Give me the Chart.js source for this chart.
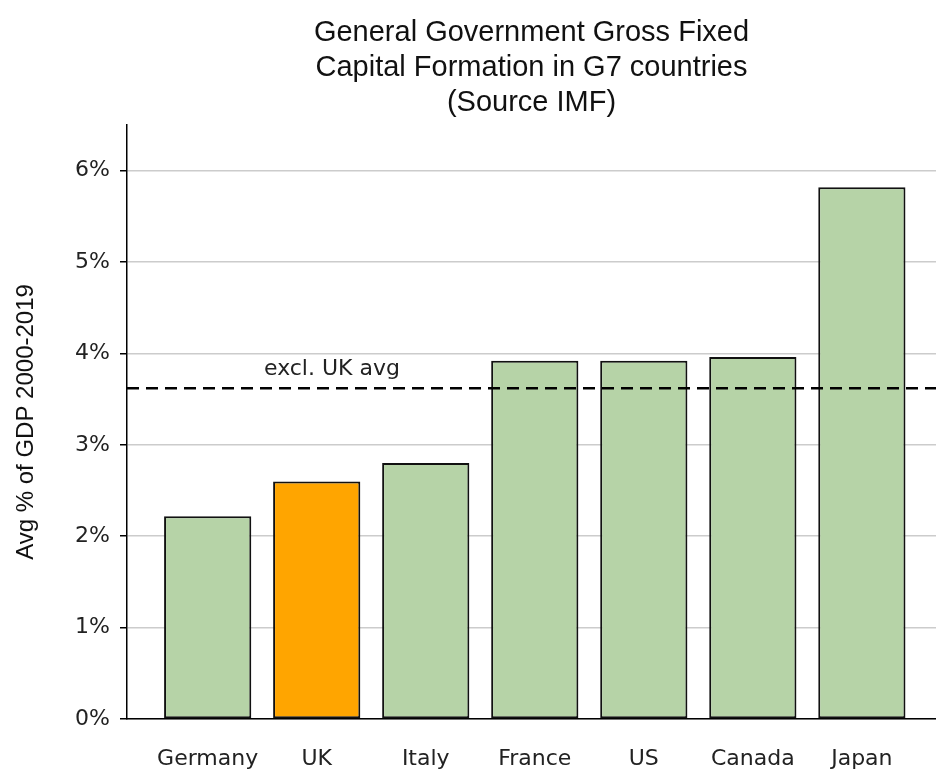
<!DOCTYPE html>
<html>
<head>
<meta charset="utf-8">
<script src="https://cdn.jsdelivr.net/npm/chart.js@4.4.1/dist/chart.umd.min.js"></script>
<style>
  html, body { margin: 0; padding: 0; background: #fff; overflow: hidden; }
  #wrap { width: 936px; height: 774px; position: relative; }
</style>
</head>
<body>
<div id="wrap"><canvas id="chart"></canvas></div>
<script>
// data
const countries = ['Germany', 'UK', 'Italy', 'France', 'US', 'Canada', 'Japan'];
const gfcfShare = [2.22, 2.60, 2.80, 3.92, 3.92, 3.96, 5.82];
const highlightCountry = 'UK';
const exclUkAvg = 3.62;
const avgLabel = 'excl. UK avg';
const yTicks = [0, 1, 2, 3, 4, 5, 6];
const titleLines = ['General Government Gross Fixed', 'Capital Formation in G7 countries', '(Source IMF)'];

const green = '#b6d3a7';
const orange = '#ffa500';

const barPoints = countries.map((c, i) => ({ x: i, y: gfcfShare[i] }));
const barColors = countries.map(c => c === highlightCountry ? orange : green);

// titre centré sur la zone du graphique, pas sur le canvas
const titlePlugin = {
    id: 'axesTitle',
    afterDraw(chart) {
        const ctx = chart.ctx;
        const area = chart.chartArea;
        const cx = (area.left + area.right) / 2;
        ctx.save();
        ctx.font = '29px "Liberation Sans", Arial';
        ctx.fillStyle = '#111';
        ctx.textAlign = 'center';
        ctx.textBaseline = 'middle';
        titleLines.forEach((line, i) => ctx.fillText(line, cx, 33 + i * 35));
        ctx.restore();
    }
};

// texte au-dessus de la ligne pointillée
const avgLabelPlugin = {
    id: 'avgLabel',
    afterDatasetsDraw(chart) {
        const ctx = chart.ctx;
        const x = chart.scales.x.getPixelForValue(1.14);
        const y = chart.scales.y.getPixelForValue(exclUkAvg);
        ctx.save();
        ctx.font = '22px "DejaVu Sans"';
        ctx.fillStyle = '#222';
        ctx.textAlign = 'center';
        ctx.textBaseline = 'middle';
        ctx.fillText(avgLabel, x, y - 19);
        ctx.restore();
    }
};

new Chart(document.getElementById('chart'), {
    data: {
        datasets: [{
            type: 'line',
            data: [{ x: -0.74, y: exclUkAvg }, { x: 6.68, y: exclUkAvg }],
            borderColor: '#000',
            borderWidth: 2.5,
            borderDash: [12, 7],
            pointRadius: 0,
            order: 0
        }, {
            type: 'bar',
            data: barPoints,
            backgroundColor: barColors,
            borderColor: '#111',
            borderWidth: 2,
            borderSkipped: false,
            barPercentage: 0.8,
            categoryPercentage: 1,
            order: 1
        }]
    },
    options: {
        responsive: true,
        maintainAspectRatio: false,
        animation: false,
        layout: { padding: { left: 0, right: 0, top: 125, bottom: 0 } },
        plugins: {
            legend: { display: false },
            tooltip: { enabled: false },
            title: { display: false }
        },
        scales: {
            x: {
                type: 'linear',
                offset: false,
                min: -0.74,
                max: 6.68,
                afterBuildTicks(scale) { scale.ticks = countries.map((c, i) => ({ value: i })); },
                afterFit(scale) { scale.height = 55; },
                grid: { display: false, drawTicks: false },
                border: { display: true, color: '#000', width: 1.5 },
                ticks: {
                    color: '#222',
                    font: { family: '"DejaVu Sans"', size: 22 },
                    padding: 27,
                    callback: v => countries[v] ?? ''
                }
            },
            y: {
                min: 0,
                max: 6.5,
                afterBuildTicks(scale) { scale.ticks = yTicks.map(v => ({ value: v })); },
                afterFit(scale) { scale.width = 127; },
                grid: { color: '#cccccc', lineWidth: 1.5, tickColor: '#000', tickLength: 7 },
                border: { display: true, color: '#000', width: 1.5 },
                ticks: {
                    color: '#222',
                    font: { family: '"DejaVu Sans"', size: 22 },
                    padding: 10,
                    callback: v => v + '%'
                },
                title: {
                    display: true,
                    text: 'Avg % of GDP 2000-2019',
                    color: '#111',
                    font: { family: '"Liberation Sans", Arial', size: 24 },
                    padding: { top: 12, bottom: 0 }
                }
            }
        }
    },
    plugins: [titlePlugin, avgLabelPlugin]
});
</script>
</body>
</html>
